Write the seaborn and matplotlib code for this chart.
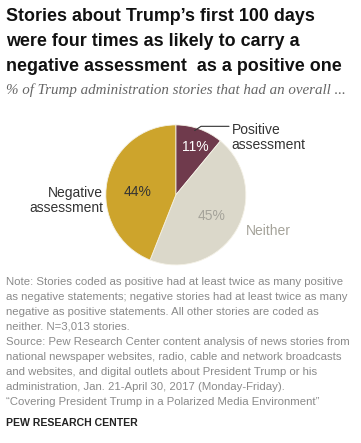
import matplotlib
matplotlib.use("Agg")
import matplotlib.pyplot as plt
import seaborn as sns

# ----------------------------
# DATA
# ----------------------------
categories = ["Positive\nassessment", "Neither", "Negative\nassessment"]
shares = [11, 45, 44]
slice_colors = ["#6f3a4c", "#dbd8ca", "#cda42c"]
pct_colors = ["white", "#a5a39a", "#333333"]

title = ("Stories about Trump\u2019s first 100 days\n"
         "were four times as likely to carry a\n"
         "negative assessment  as a positive one")
subtitle = "% of Trump administration stories that had an overall ..."
note = ("Note: Stories coded as positive had at least twice as many positive\n"
        "as negative statements; negative stories had at least twice as many\n"
        "negative as positive statements. All other stories are coded as\n"
        "neither. N=3,013 stories.\n"
        "Source: Pew Research Center content analysis of news stories from\n"
        "national newspaper websites, radio, cable and network broadcasts\n"
        "and websites, and digital outlets about President Trump or his\n"
        "administration, Jan. 21-April 30, 2017 (Monday-Friday).\n"
        "\u201cCovering President Trump in a Polarized Media Environment\u201d")

sns.set_theme(style="white")
plt.rcParams["font.family"] = ["Liberation Sans", "DejaVu Sans"]

fig = plt.figure(figsize=(3.61, 4.43), dpi=100)
fig.patch.set_facecolor("white")

# header
fig.text(0.017, 0.982, title, ha="left", va="top", fontsize=12.9,
         fontweight="bold", color="#111111", linespacing=1.6)
fig.text(0.017, 0.797, subtitle, ha="left", va="center", fontsize=10.8,
         style="italic", family="Liberation Serif", color="#666666")

# ----------------------------
# PIE
# ----------------------------
ax = fig.add_axes([0.293, 0.402, 0.388, 0.316])
wedges, _, pcts = ax.pie(shares, colors=slice_colors, startangle=90,
                         counterclock=False, autopct=lambda p: f"{p:.0f}%",
                         pctdistance=0.6,
                         wedgeprops=dict(linewidth=0.6, edgecolor="#f4f1e6"),
                         textprops=dict(fontsize=10))
for t, c in zip(pcts, pct_colors):
    t.set_color(c)
pcts[0].set_position((0.28, 0.68))
pcts[2].set_position((-0.54, 0.04))
ax.set_aspect("equal")
ax.set_xlim(-1, 1)
ax.set_ylim(-1, 1)

# outer labels
ax.text(-1.04, -0.08, categories[2], ha="right", va="center",
        fontsize=10, color="#333333", linespacing=1.15)
ax.text(1.0, -0.52, categories[1], ha="left", va="center",
        fontsize=10, color="#a5a39a")
ax.text(0.8, 0.82, categories[0], ha="left", va="center",
        fontsize=10, color="#333333", linespacing=1.15)
ax.plot([0.27, 0.36, 0.76], [0.92, 0.98, 0.98], color="#333333", lw=0.8,
        clip_on=False)

# ----------------------------
# FOOTER
# ----------------------------
fig.text(0.017, 0.375, note, ha="left", va="top", fontsize=8.2,
         color="#8a8a8a", linespacing=1.62)
fig.text(0.017, 0.045, "PEW RESEARCH CENTER", ha="left", va="center",
         fontsize=7.6, fontweight="bold", color="#222222")

fig.savefig("out.png", dpi=100, facecolor="white")
